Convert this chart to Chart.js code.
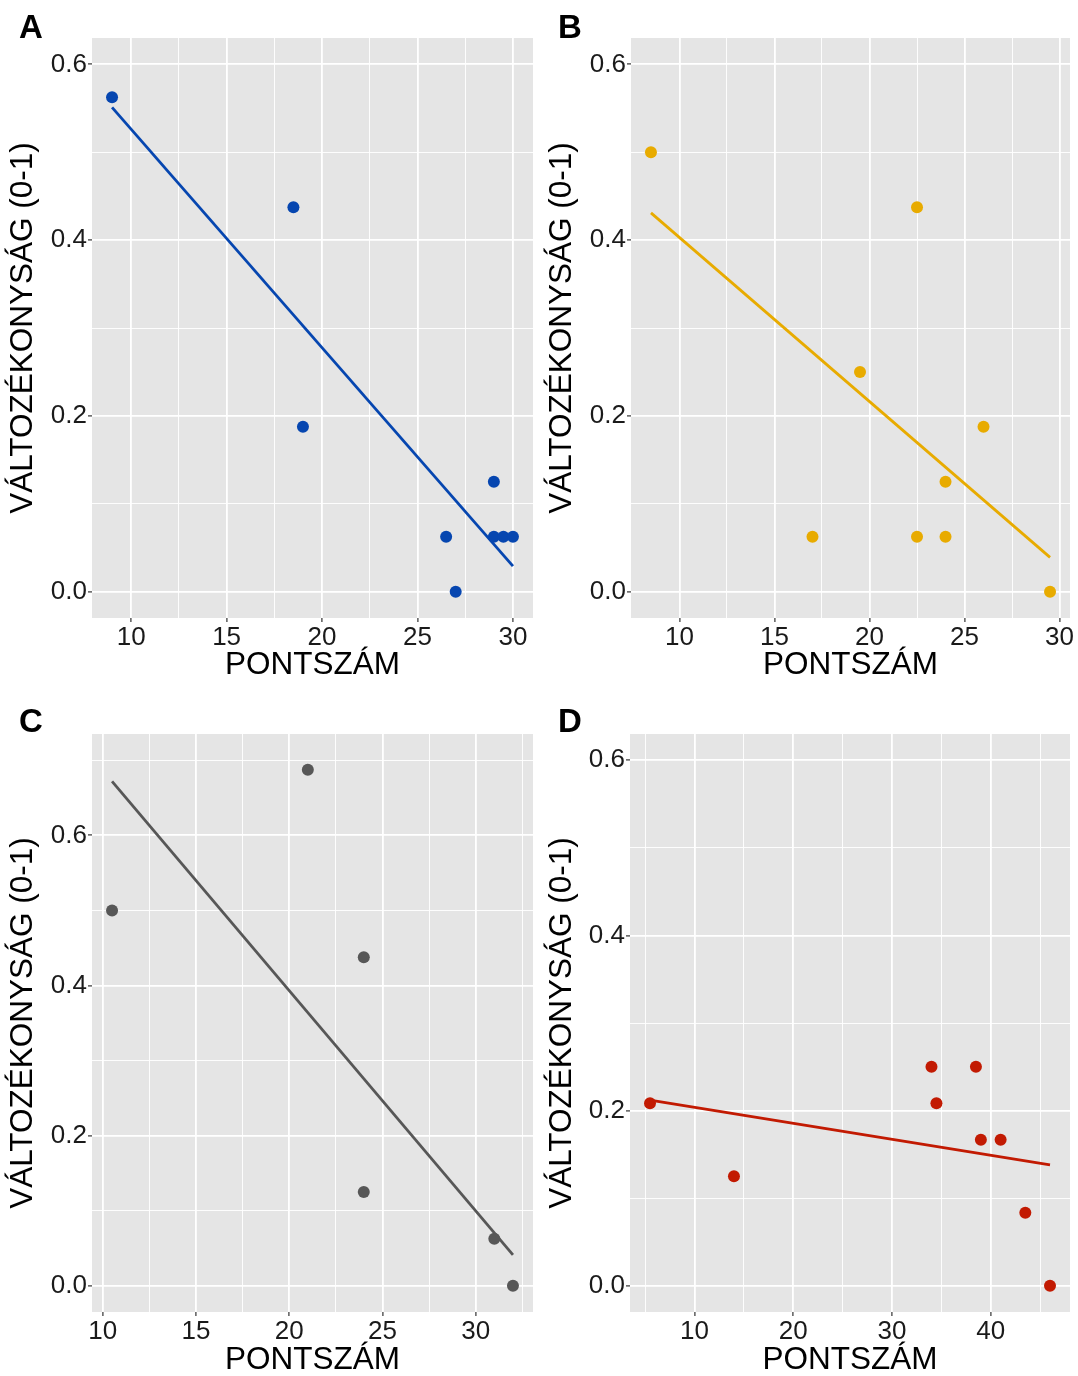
<!DOCTYPE html>
<html>
<head>
<meta charset="utf-8">
<script src="https://cdn.jsdelivr.net/npm/chart.js@4.4.1/dist/chart.umd.min.js"></script>
<style>
  body { margin: 0; background: #fff; }
  #wrap { position: relative; width: 1078px; height: 1376px; }
  canvas { position: absolute; }
  .lbl { position: absolute; font: bold 33px 'Liberation Sans', Arial, sans-serif; line-height: 33px; color: #000; }
</style>
</head>
<body>
<div id="wrap">
  <canvas id="cA" width="539" height="688" style="left:0;top:0"></canvas>
  <canvas id="cB" width="539" height="688" style="left:539px;top:0"></canvas>
  <canvas id="cC" width="539" height="688" style="left:0;top:688px"></canvas>
  <canvas id="cD" width="539" height="688" style="left:539px;top:688px"></canvas>
  <div class="lbl" style="left:19px;top:10px">A</div>
  <div class="lbl" style="left:558px;top:10px">B</div>
  <div class="lbl" style="left:19px;top:704px">C</div>
  <div class="lbl" style="left:558px;top:704px">D</div>
</div>
<script>
// panel A
var xA = [9, 18.5, 19, 26.5, 27, 29, 29, 29.5, 30];
var yA = [0.5625, 0.4375, 0.1875, 0.0625, 0, 0.125, 0.0625, 0.0625, 0.0625];
var fitXA = [9, 30];
var fitYA = [0.551, 0.029];

// panel B
var xB = [8.5, 22.5, 19.5, 26, 24, 17, 22.5, 24, 29.5];
var yB = [0.5, 0.4375, 0.25, 0.1875, 0.125, 0.0625, 0.0625, 0.0625, 0];
var fitXB = [8.5, 29.5];
var fitYB = [0.431, 0.039];

// panel C
var xC = [10.5, 21, 24, 24, 31, 32];
var yC = [0.5, 0.6875, 0.4375, 0.125, 0.0625, 0];
var fitXC = [10.5, 32];
var fitYC = [0.672, 0.041];

// panel D
var xD = [5.5, 14, 34, 38.5, 34.5, 39, 41, 43.5, 46];
var yD = [0.2083, 0.125, 0.25, 0.25, 0.2083, 0.1667, 0.1667, 0.0833, 0];
var fitXD = [5.5, 46];
var fitYD = [0.212, 0.138];

// axis limits and ticks
var xRangeA = [7.95, 31.05], xRangeB = [7.45, 30.55], xRangeC = [9.425, 33.075], xRangeD = [3.475, 48.025];
var yRange06 = [-0.03, 0.63], yRange07 = [-0.035, 0.735];
var xTicks30 = [10, 12.5, 15, 17.5, 20, 22.5, 25, 27.5, 30];
var xTicksC = [10, 12.5, 15, 17.5, 20, 22.5, 25, 27.5, 30, 32.5];
var xMajor30 = [10, 15, 20, 25, 30];
var xTicksD = [5, 10, 15, 20, 25, 30, 35, 40, 45];
var xMajorD = [10, 20, 30, 40];
var yTicks06 = [0, 0.1, 0.2, 0.3, 0.4, 0.5, 0.6];
var yTicks07 = [0, 0.1, 0.2, 0.3, 0.4, 0.5, 0.6, 0.7];
var yMajor = [0, 0.2, 0.4, 0.6];

var FONT = "'Liberation Sans', Arial, Helvetica, sans-serif";

function near(arr, v) {
    return arr.some(function (m) { return Math.abs(m - v) < 1e-6; });
}

var panelBg = {
    id: 'panelBg',
    beforeDraw: function (chart) {
        var a = chart.chartArea;
        chart.ctx.save();
        chart.ctx.fillStyle = '#e5e5e5';
        chart.ctx.fillRect(a.left, a.top, a.right - a.left, a.bottom - a.top);
        chart.ctx.restore();
    }
};

function gridOpts(major) {
    return {
        color: '#ffffff',
        lineWidth: function (c) { return c.tick && near(major, c.tick.value) ? 1.8 : 0.9; },
        tickLength: 4,
        tickWidth: 1.2,
        tickColor: function (c) { return c.tick && near(major, c.tick.value) ? '#333333' : 'rgba(0,0,0,0)'; }
    };
}

function makePanel(id, o) {
    var pts = o.xs.map(function (x, i) { return {x: x, y: o.ys[i]}; });
    var fit = o.fitX.map(function (x, i) { return {x: x, y: o.fitY[i]}; });
    new Chart(document.getElementById(id), {
        type: 'scatter',
        data: {
            datasets: [
                {data: pts, backgroundColor: o.color, pointRadius: 6, pointBorderWidth: 0, order: 1},
                {data: fit, showLine: true, borderColor: o.color, borderWidth: 2.8, pointRadius: 0, fill: false, order: 0}
            ]
        },
        options: {
            responsive: false,
            animation: false,
            events: [],
            layout: {padding: {top: o.top, right: o.right, left: 0, bottom: 0}},
            plugins: {legend: {display: false}, tooltip: {enabled: false}},
            scales: {
                x: {
                    type: 'linear',
                    min: o.xRange[0],
                    max: o.xRange[1],
                    afterBuildTicks: function (s) { s.ticks = o.xTicks.map(function (v) { return {value: v}; }); },
                    afterFit: function (s) { s.height = o.xAxisH; },
                    ticks: {
                        autoSkip: false, maxRotation: 0, padding: 0, color: '#1a1a1a',
                        font: {family: FONT, size: 26},
                        callback: function (v) { return near(o.xMajor, v) ? String(v) : ''; }
                    },
                    grid: gridOpts(o.xMajor),
                    border: {display: false},
                    title: {
                        display: true, text: 'PONTSZÁM', color: '#000',
                        font: {family: FONT, size: 31.5, lineHeight: 1},
                        padding: {top: 0, bottom: o.xTitlePad}
                    }
                },
                y: {
                    type: 'linear',
                    min: o.yRange[0],
                    max: o.yRange[1],
                    afterBuildTicks: function (s) { s.ticks = o.yTicks.map(function (v) { return {value: v}; }); },
                    afterFit: function (s) { s.width = o.yAxisW; },
                    ticks: {
                        autoSkip: false, padding: 1, color: '#1a1a1a',
                        font: {family: FONT, size: 26},
                        callback: function (v) { return near(yMajor, v) ? v.toFixed(1) : ''; }
                    },
                    grid: gridOpts(yMajor),
                    border: {display: false},
                    title: {
                        display: true, text: 'VÁLTOZÉKONYSÁG (0-1)', color: '#000',
                        font: {family: FONT, size: 31.5, lineHeight: 1},
                        padding: {top: 8, bottom: 0}
                    }
                }
            }
        },
        plugins: [panelBg]
    });
}

makePanel('cA', {xs: xA, ys: yA, fitX: fitXA, fitY: fitYA, color: '#0646b0',
    xRange: xRangeA, yRange: yRange06, xTicks: xTicks30, xMajor: xMajor30, yTicks: yTicks06,
    top: 38, right: 6, xAxisH: 70, yAxisW: 92, xTitlePad: 6.5});
makePanel('cB', {xs: xB, ys: yB, fitX: fitXB, fitY: fitYB, color: '#e8ab00',
    xRange: xRangeB, yRange: yRange06, xTicks: xTicks30, xMajor: xMajor30, yTicks: yTicks06,
    top: 38, right: 8, xAxisH: 70, yAxisW: 92, xTitlePad: 6.5});
makePanel('cC', {xs: xC, ys: yC, fitX: fitXC, fitY: fitYC, color: '#575757',
    xRange: xRangeC, yRange: yRange07, xTicks: xTicksC, xMajor: xMajor30, yTicks: yTicks07,
    top: 46, right: 5, xAxisH: 64, yAxisW: 92, xTitlePad: 0});
makePanel('cD', {xs: xD, ys: yD, fitX: fitXD, fitY: fitYD, color: '#c21a02',
    xRange: xRangeD, yRange: yRange06, xTicks: xTicksD, xMajor: xMajorD, yTicks: yTicks06,
    top: 46, right: 8, xAxisH: 64, yAxisW: 91, xTitlePad: 0});
</script>
</body>
</html>
